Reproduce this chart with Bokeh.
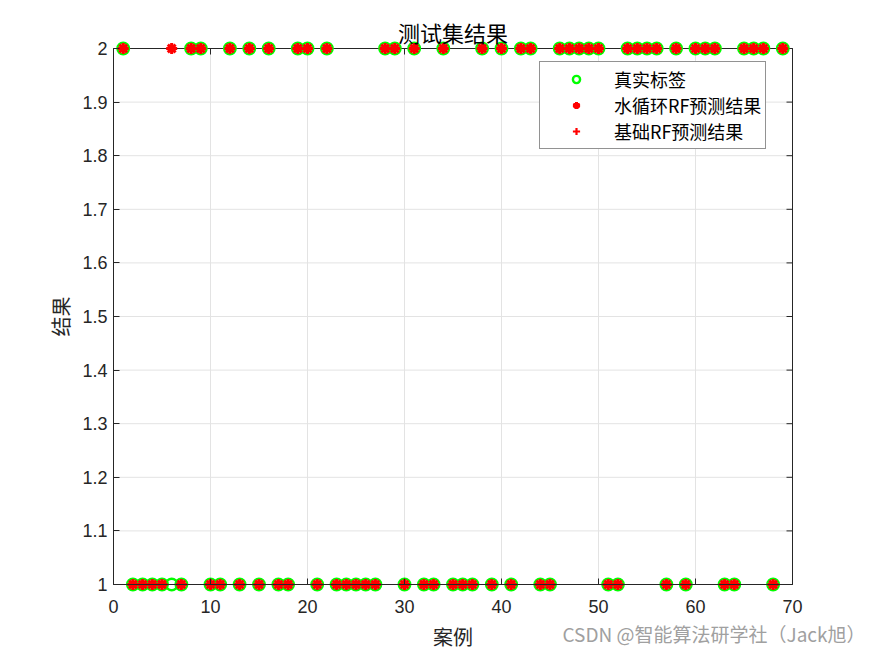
import math
from bokeh.plotting import figure
from bokeh.models import Legend, LegendItem, Label, FixedTicker, Range1d
from bokeh.embed import file_html
from bokeh.resources import INLINE

# ---- data ----
case_idx = list(range(1, 70))
true_labels = [2, 1, 1, 1, 1, 1, 1, 2, 2, 1,
               1, 2, 1, 2, 1, 2, 1, 1, 2, 2,
               1, 2, 1, 1, 1, 1, 1, 2, 2, 1,
               2, 1, 1, 2, 1, 1, 1, 2, 1, 2,
               1, 2, 2, 1, 1, 2, 2, 2, 2, 2,
               1, 1, 2, 2, 2, 2, 1, 2, 1, 2,
               2, 2, 1, 1, 2, 2, 2, 1, 2]
wc_rf_pred = [2, 1, 1, 1, 1, 2, 1, 2, 2, 1,
              1, 2, 1, 2, 1, 2, 1, 1, 2, 2,
              1, 2, 1, 1, 1, 1, 1, 2, 2, 1,
              2, 1, 1, 2, 1, 1, 1, 2, 1, 2,
              1, 2, 2, 1, 1, 2, 2, 2, 2, 2,
              1, 1, 2, 2, 2, 2, 1, 2, 1, 2,
              2, 2, 1, 1, 2, 2, 2, 1, 2]
base_rf_pred = [2, 1, 1, 1, 1, 2, 1, 2, 2, 1,
                1, 2, 1, 2, 1, 2, 1, 1, 2, 2,
                1, 2, 1, 1, 1, 1, 1, 2, 2, 1,
                2, 1, 1, 2, 1, 1, 1, 2, 1, 2,
                1, 2, 2, 1, 1, 2, 2, 2, 2, 2,
                1, 1, 2, 2, 2, 2, 1, 2, 1, 2,
                2, 2, 1, 1, 2, 2, 2, 1, 2]
series_names = ["真实标签", "水循环RF预测结果", "基础RF预测结果"]
x_lim = [0, 70]
y_lim = [1, 2]
x_ticks = [0, 10, 20, 30, 40, 50, 60, 70]
y_ticks = [1.0, 1.1, 1.2, 1.3, 1.4, 1.5, 1.6, 1.7, 1.8, 1.9, 2.0]
y_tick_labels = ["1", "1.1", "1.2", "1.3", "1.4", "1.5", "1.6", "1.7", "1.8", "1.9", "2"]
title_text = "测试集结果"
x_label = "案例"
y_label = "结果"
watermark = "CSDN @智能算法研学社（Jack旭）"

CJK = "Noto Sans CJK SC"
LAT = "Liberation Sans"
AX = "#262626"

# ---- layout (pixels within the figure) ----
FW, FH = 870, 652
BOX_L, BOX_R, BOX_T, BOX_B = 113, 792, 48, 584   # axes box inside figure
ppx = (BOX_R - BOX_L) / (x_lim[1] - x_lim[0])     # px per x unit
ppy = (BOX_B - BOX_T) / (y_lim[1] - y_lim[0])     # px per y unit
x0 = x_lim[0] - BOX_L / ppx
x1 = x0 + FW / ppx
y1 = y_lim[1] + BOX_T / ppy
y0 = y1 - FH / ppy

def fx(px):  # figure pixel -> data x
    return x0 + px / ppx

def fy(py):  # figure pixel (from top) -> data y
    return y1 - py / ppy

p = figure(frame_width=FW, frame_height=FH, output_backend="svg", toolbar_location=None,
           x_range=Range1d(x0, x1), y_range=Range1d(y0, y1),
           min_border=0, min_border_left=0, min_border_right=0,
           min_border_top=0, min_border_bottom=0)
p.background_fill_color = "white"
p.border_fill_color = "white"
p.outline_line_color = None
p.grid.visible = False

# grid (inside the box only)
p.segment(x0=x_ticks, y0=[y_lim[0]] * len(x_ticks), x1=x_ticks, y1=[y_lim[1]] * len(x_ticks),
          line_color="#e3e3e3", line_width=1)
p.segment(x0=[x_lim[0]] * len(y_ticks), y0=y_ticks, x1=[x_lim[1]] * len(y_ticks), y1=y_ticks,
          line_color="#e3e3e3", line_width=1)

# axes box
p.quad(left=[x_lim[0]], right=[x_lim[1]], bottom=[y_lim[0]], top=[y_lim[1]],
       fill_color=None, line_color=AX, line_width=1)

# mirrored ticks on top and right (pointing inward, 6px)
tl = 6
p.segment(x0=x_ticks, y0=[y_lim[1]] * len(x_ticks), x1=x_ticks,
          y1=[y_lim[1] - tl / ppy] * len(x_ticks), line_color=AX, line_width=1)
p.segment(x0=[x_lim[1]] * len(y_ticks), y0=y_ticks, x1=[x_lim[1] - tl / ppx] * len(y_ticks),
          y1=y_ticks, line_color=AX, line_width=1)

xa = p.xaxis[0]
ya = p.yaxis[0]
xa.fixed_location = y_lim[0]
ya.fixed_location = x_lim[0]
xa.bounds = tuple(x_lim)
ya.bounds = tuple(y_lim)
for ax in (xa, ya):
    ax.major_tick_in = tl
    ax.major_tick_out = 0
    ax.minor_tick_line_color = None
    ax.axis_line_color = AX
    ax.major_tick_line_color = AX
    ax.major_label_text_font = LAT
    ax.major_label_text_font_size = "18px"
    ax.major_label_text_color = AX
xa.ticker = FixedTicker(ticks=x_ticks)
ya.ticker = FixedTicker(ticks=y_ticks)
ya.major_label_overrides = {t: l for t, l in zip(y_ticks, y_tick_labels)}
xa.major_label_standoff = 15
ya.major_label_standoff = 6

# data
r_true = p.scatter(case_idx, true_labels, marker="circle", size=11.5,
                   line_color="#00ff00", line_width=2.4, fill_color=None)
r_wc = p.scatter(case_idx, wc_rf_pred, marker="asterisk", size=11,
                 line_color="#ff0000", line_width=3)
r_base = p.scatter(case_idx, base_rf_pred, marker="cross", size=10,
                   line_color="#ff0000", line_width=2.2)

# texts
p.add_layout(Label(x=(x_lim[0] + x_lim[1]) / 2, y=fy(31.7), text=title_text, text_font=CJK,
                   text_font_size="22px", text_color="#000000",
                   text_align="center", text_baseline="middle"))
p.add_layout(Label(x=(x_lim[0] + x_lim[1]) / 2, y=fy(636), text=x_label, text_font=CJK,
                   text_font_size="20px", text_color=AX,
                   text_align="center", text_baseline="middle"))
p.add_layout(Label(x=fx(60), y=(y_lim[0] + y_lim[1]) / 2, text=y_label, text_font=CJK,
                   text_font_size="20px", text_color=AX, angle=math.pi / 2,
                   text_align="center", text_baseline="middle"))
p.add_layout(Label(x=fx(562), y=fy(633), text=watermark, text_font=CJK,
                   text_font_size="19px", text_color="#a0a0a0",
                   text_align="left", text_baseline="middle"))

LEG_H = 83
legend = Legend(items=[LegendItem(label=series_names[0], renderers=[r_true]),
                       LegendItem(label=series_names[1], renderers=[r_wc]),
                       LegendItem(label=series_names[2], renderers=[r_base])],
                location=(539, FH - 66 - LEG_H))
legend.margin = 0
legend.padding = 4
legend.spacing = -4
legend.glyph_width = 64
legend.glyph_height = 18
legend.label_height = 18
legend.label_standoff = 6
legend.label_text_font = CJK
legend.label_text_font_size = "18px"
legend.label_text_color = "#000000"
legend.label_text_baseline = "middle"
legend.border_line_color = AX
legend.border_line_width = 1
legend.background_fill_color = "white"
legend.background_fill_alpha = 1
p.add_layout(legend)

open("out.html", "w").write(file_html(p, INLINE))
